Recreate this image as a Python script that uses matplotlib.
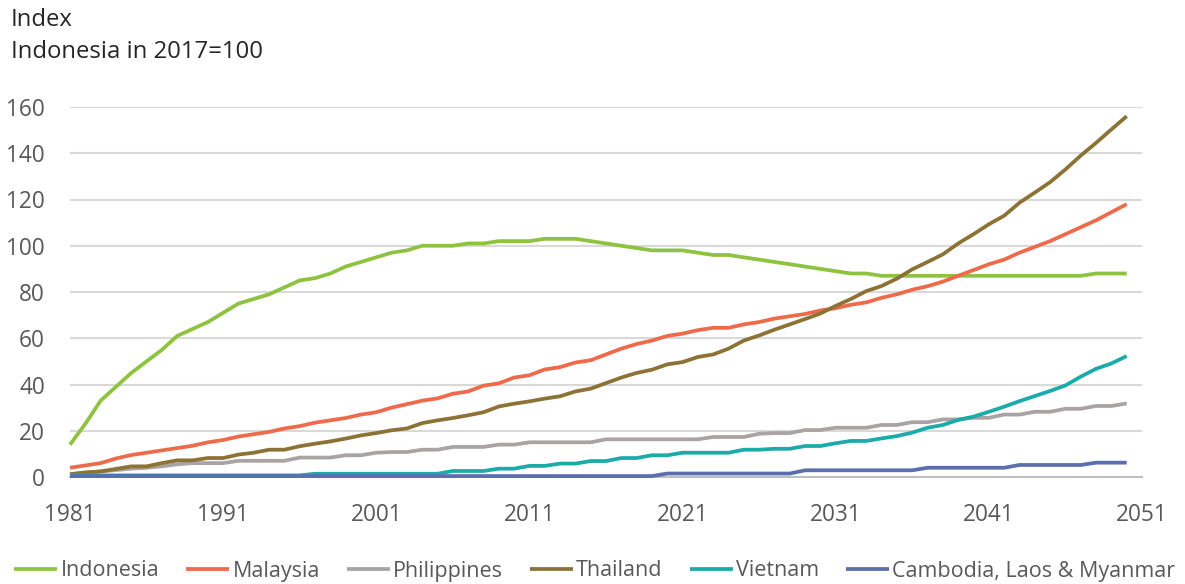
import matplotlib
matplotlib.use("Agg")
import matplotlib.pyplot as plt
import numpy as np

years = list(range(1981, 2051))

indonesia = [14, 23, 33, 39, 45, 50, 55, 61, 64, 67, 71, 75, 77, 79, 82, 85, 86, 88, 91, 93,
             95, 97, 98, 100, 100, 100, 101, 101, 102, 102, 102, 103, 103, 103, 102, 101, 100, 99, 98, 98,
             98, 97, 96, 96, 95, 94, 93, 92, 91, 90, 89, 88, 88, 87, 87, 87, 87, 87, 87, 87,
             87, 87, 87, 87, 87, 87, 87, 88, 88, 88]
malaysia = [4, 5, 6, 8, 9.5, 10.5, 11.5, 12.5, 13.5, 15, 16, 17.5, 18.5, 19.5, 21, 22, 23.5, 24.5, 25.5, 27,
            28, 30, 31.5, 33, 34, 36, 37, 39.5, 40.5, 43, 44, 46.5, 47.5, 49.5, 50.5, 53, 55.5, 57.5, 59, 61,
            62, 63.5, 64.5, 64.5, 66, 67, 68.5, 69.5, 70.5, 72, 73, 74.5, 75.5, 77.5, 79, 81, 82.5, 84.5, 87, 89.5,
            92, 94, 97, 99.5, 102, 105, 108, 111, 114.5, 118]
philippines = [1.2, 1.8, 2.4, 3, 3.6, 4, 4.6, 5.5, 6, 6, 6, 7, 7, 7, 7, 8.4, 8.4, 8.4, 9.4, 9.4,
               10.5, 10.8, 10.8, 11.8, 11.8, 13, 13, 13, 14, 14, 15, 15, 15, 15, 15, 16.3, 16.3, 16.3, 16.3, 16.3,
               16.3, 16.3, 17.3, 17.3, 17.3, 18.7, 19, 19, 20.3, 20.3, 21.3, 21.3, 21.3, 22.5, 22.5, 23.7, 23.7, 24.9, 24.9, 25.6,
               25.6, 27, 27, 28.2, 28.2, 29.5, 29.5, 30.7, 30.7, 31.8]
thailand = [1.2, 2, 2.4, 3.5, 4.6, 4.6, 6, 7.2, 7.2, 8.2, 8.2, 9.7, 10.5, 11.8, 11.8, 13.3, 14.4, 15.4, 16.6, 18,
            19, 20.2, 21, 23.3, 24.5, 25.5, 26.7, 28, 30.5, 31.7, 32.7, 33.9, 34.9, 37, 38.2, 40.6, 43, 45, 46.4, 48.7,
            49.7, 51.9, 53, 55.5, 59, 61.2, 63.7, 66, 68.3, 70.7, 74, 77, 80.4, 82.6, 85.8, 89.8, 93, 96.3, 101, 105,
            109.3, 113, 118.6, 123, 127.5, 133, 139, 144.5, 150.3, 156]
vietnam = [0.7, 0.7, 0.7, 0.7, 0.7, 0.7, 0.7, 0.7, 0.7, 0.7, 0.7, 0.7, 0.7, 0.7, 0.7, 0.7, 1.4, 1.4, 1.4, 1.4,
           1.4, 1.4, 1.4, 1.4, 1.4, 2.6, 2.6, 2.6, 3.6, 3.6, 4.8, 4.8, 5.8, 5.8, 6.9, 6.9, 8.2, 8.2, 9.4, 9.4,
           10.5, 10.5, 10.5, 10.5, 11.8, 11.8, 12.2, 12.2, 13.4, 13.4, 14.6, 15.6, 15.6, 16.7, 17.7, 19.2, 21.3, 22.5, 24.7, 26.1,
           28.2, 30.4, 32.8, 35, 37.2, 39.6, 43.4, 46.8, 49.1, 52.3]
cambodia = [0.4] * 39 + [1.5] * 9 + [2.9] * 8 + [4.0] * 6 + [5.2] * 5 + [6.2] * 3

series_names = ["Indonesia", "Malaysia", "Philippines", "Thailand", "Vietnam", "Cambodia, Laos & Myanmar"]
series_values = [indonesia, malaysia, philippines, thailand, vietnam, cambodia]
colors = ["#8DC33F", "#EE6A4A", "#A9A3A3", "#8C7234", "#1BABA8", "#5B6EAE"]

xticks = [1981, 1991, 2001, 2011, 2021, 2031, 2041, 2051]
yticks = [0, 20, 40, 60, 80, 100, 120, 140, 160]

plt.rcParams['font.family'] = ['Open Sans', 'DejaVu Sans']
text_color = "#595959"

fig = plt.figure(figsize=(11.85, 5.84), dpi=100)
ax = fig.add_axes([70/1185, 1 - 477/584, (1142 - 70)/1185, 370/584])

for name, vals, c in zip(series_names, series_values, colors):
    ax.plot(years, vals, color=c, lw=2.7, label=name, clip_on=False, solid_capstyle='butt', zorder=3)

ax.set_xlim(1981, 2051)
ax.set_ylim(0, 160)
ax.set_xticks(xticks)
ax.set_yticks(yticks)
ax.grid(axis='y', color="#D9D9D9", lw=1.5, zorder=0)
ax.set_axisbelow(True)
for s in ["top", "right", "left"]:
    ax.spines[s].set_visible(False)
ax.spines["bottom"].set_color("#BFBFBF")
ax.spines["bottom"].set_linewidth(1.5)
ax.tick_params(axis='both', length=0, labelsize=16.3, colors=text_color)
ax.tick_params(axis='x', pad=19)
ax.tick_params(axis='y', pad=18)

fig.text(11/1185, 1 - 20/584, "Index", fontsize=17.2, color="#262626", va='center', ha='left')
fig.text(11/1185, 1 - 52/584, "Indonesia in 2017=100", fontsize=17.2, color="#262626", va='center', ha='left')

fig.legend(loc='center', bbox_to_anchor=(0.502, 1 - 571/584), ncol=6, frameon=False,
           fontsize=15.5, handlelength=2.0, handletextpad=0.15, columnspacing=1.25,
           labelcolor=text_color)

fig.savefig("out.png", dpi=100)
